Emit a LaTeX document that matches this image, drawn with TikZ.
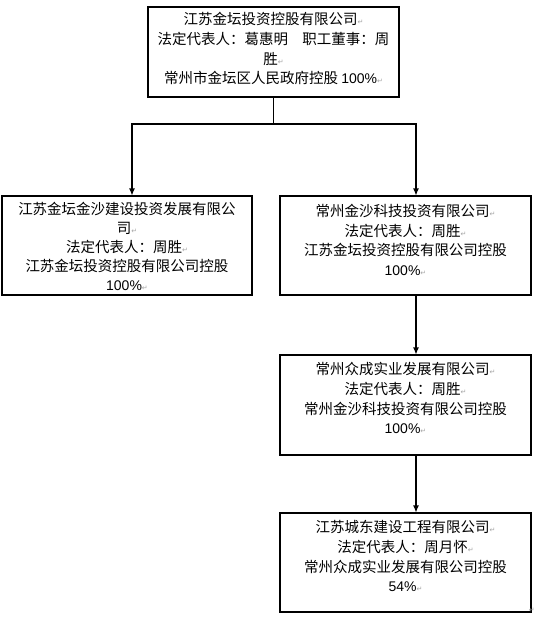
\documentclass[tikz,border=0pt]{standalone}
\usepackage{fontspec}
\setmainfont{Liberation Sans}
\newfontfamily\cjk{Noto Sans CJK SC}
\newfontfamily\dvsans{DejaVu Sans}
\newfontfamily\latsans{Liberation Sans}
\usetikzlibrary{arrows.meta}
\newcommand\rmk{{\dvsans\fontsize{7}{7}\selectfont\textcolor{gray!70}{↵}}}
\newcommand\num[1]{{\latsans\fontsize{14}{19}\selectfont #1}}
\begin{document}
\begin{tikzpicture}[x=1pt,y=-1pt,
  box/.style={draw, line width=1.1pt, inner sep=0pt, minimum width=251pt},
  txt/.style={anchor=north, align=center, inner sep=0pt, font=\cjk\fontsize{14.5}{19.6}\selectfont},
  link/.style={line width=1.1pt},
  arr/.style={line width=1.1pt, -{Latex[length=7pt,width=6pt]}}]
\useasboundingbox (0,0) rectangle (535,625);
\fill[white] (0,0) rectangle (535,625);
% boxes
\node[box, minimum height=90pt] (top) at (273.5,52) {};
\node[box, minimum width=250pt, minimum height=99pt] (left) at (127,245.5) {};
\node[box, minimum height=99pt] (right) at (405.5,245.5) {};
\node[box, minimum height=100pt] (mid) at (405.5,405) {};
\node[box, minimum height=99pt] (bot) at (405.5,562.5) {};
% texts
\node[txt, yshift=-6pt] (toptxt) at (top.north) {江苏金坛投资控股有限公司\rmk\\法定代表人：葛惠明　职工董事：周\\胜\rmk\\常州市金坛区人民政府控股 \num{100\%}\rmk};
\node[txt, yshift=-7pt, font=\cjk\fontsize{14.5}{18.8}\selectfont] (lefttxt) at (left.north) {江苏金坛金沙建设投资发展有限公\\司\rmk\\法定代表人：周胜\rmk\\江苏金坛投资控股有限公司控股\\\num{100\%}\rmk};
\node[txt, yshift=-8.5pt] (righttxt) at (right.north) {常州金沙科技投资有限公司\rmk\\法定代表人：周胜\rmk\\江苏金坛投资控股有限公司控股\\\num{100\%}\rmk};
\node[txt, yshift=-8pt] (midtxt) at (mid.north) {常州众成实业发展有限公司\rmk\\法定代表人：周胜\rmk\\常州金沙科技投资有限公司控股\\\num{100\%}\rmk};
\node[txt, yshift=-8pt] (bottxt) at (bot.north) {江苏城东建设工程有限公司\rmk\\法定代表人：周月怀\rmk\\常州众成实业发展有限公司控股\\\num{54\%}\rmk};
\node[anchor=south east, inner sep=0pt] (endmark) at (535,613) {\rmk};
% connectors
\coordinate (j) at (273.5,124);
\draw[link] (top.south) -- (j);
\draw[arr] (j) -| ([xshift=5pt]left.north);
\draw[arr] (j) -| ([xshift=10.5pt]right.north);
\draw[arr] ([xshift=10.5pt]right.south) -- ([xshift=10.5pt]mid.north);
\draw[arr] ([xshift=10.5pt]mid.south) -- ([xshift=10.5pt]bot.north);
\end{tikzpicture}
\end{document}
